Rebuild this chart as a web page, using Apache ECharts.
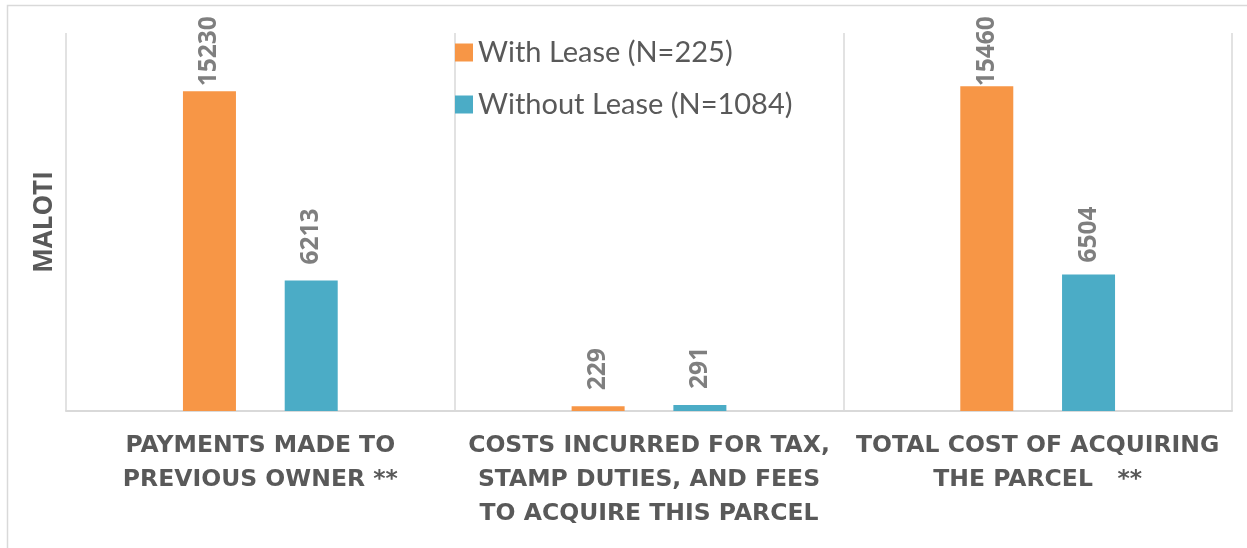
<!DOCTYPE html>
<html>
<head>
<meta charset="utf-8">
<script src="https://cdn.jsdelivr.net/npm/echarts@6/dist/echarts.min.js"></script>
<style>
html,body{margin:0;padding:0;background:#fff;}
#chart{width:1247px;height:548px;}
</style>
</head>
<body>
<div id="chart"></div>
<script>
// ---- data ----
const categories = [
  "PAYMENTS MADE TO\nPREVIOUS OWNER **",
  "COSTS INCURRED FOR TAX,\nSTAMP DUTIES, AND FEES\nTO ACQUIRE THIS PARCEL",
  "TOTAL COST OF ACQUIRING\nTHE PARCEL   **"
];
const seriesNames = ["With Lease (N=225)", "Without Lease (N=1084)"];
const withLease = [15230, 229, 15460];
const withoutLease = [6213, 291, 6504];
const yAxisName = "MALOTI";

// ---- styling (not data) ----
const colors = ["#F79646", "#4BACC6"];
const labelGapWith = [5, 16, 0];
const labelGapWithout = [16, 16, 12];

function items(values, gaps) {
  return values.map((v, i) => ({ value: v, label: { distance: gaps[i] } }));
}

const labelStyle = {
  show: true,
  position: 'top',
  rotate: 90,
  align: 'left',
  verticalAlign: 'middle',
  color: '#7f7f7f',
  fontFamily: 'Open Sans',
  fontWeight: 'bold',
  fontSize: 24.5
};

const chart = echarts.init(document.getElementById('chart'), null, { renderer: 'canvas' });
chart.setOption({
  animation: false,
  backgroundColor: '#ffffff',
  graphic: [{
    type: 'rect',
    shape: { x: 7.5, y: 5.5, width: 1260, height: 560 },
    style: { fill: 'none', stroke: '#d9d9d9', lineWidth: 1.5 },
    silent: true,
    z: -1
  }],
  legend: {
    orient: 'vertical',
    left: 450,
    top: 33,
    itemWidth: 18,
    itemHeight: 18,
    itemGap: 23,
    icon: 'rect',
    textStyle: { fontFamily: 'Lato', fontSize: 29, color: '#595959', padding: [0, 0, 0, 0] },
    data: seriesNames
  },
  grid: { left: 66, right: 15, top: 33, bottom: 137, containLabel: false },
  xAxis: {
    type: 'category',
    data: categories,
    axisLine: { show: true, lineStyle: { color: '#d9d9d9', width: 2 } },
    axisTick: { show: false },
    splitLine: { show: true, interval: 0, lineStyle: { color: '#d9d9d9', width: 1.5 } },
    axisLabel: {
      interval: 0,
      margin: 18,
      color: '#595959',
      fontFamily: 'DejaVu Sans',
      fontWeight: 'bold',
      fontSize: 23.5,
      lineHeight: 34,
      align: 'center'
    }
  },
  yAxis: {
    type: 'value',
    min: 0,
    max: 18000,
    axisLabel: { show: false },
    axisLine: { show: false },
    axisTick: { show: false },
    splitLine: { show: false },
    name: yAxisName,
    nameLocation: 'middle',
    nameRotate: 90,
    nameGap: 8,
    nameTextStyle: { fontFamily: 'Open Sans', fontWeight: 'bold', fontSize: 26, color: '#595959' }
  },
  series: [
    {
      name: seriesNames[0],
      type: 'bar',
      data: items(withLease, labelGapWith),
      barWidth: 53,
      barGap: '92%',
      itemStyle: { color: colors[0] },
      label: labelStyle
    },
    {
      name: seriesNames[1],
      type: 'bar',
      data: items(withoutLease, labelGapWithout),
      barWidth: 53,
      barGap: '92%',
      itemStyle: { color: colors[1] },
      label: labelStyle
    }
  ]
});
</script>
</body>
</html>
